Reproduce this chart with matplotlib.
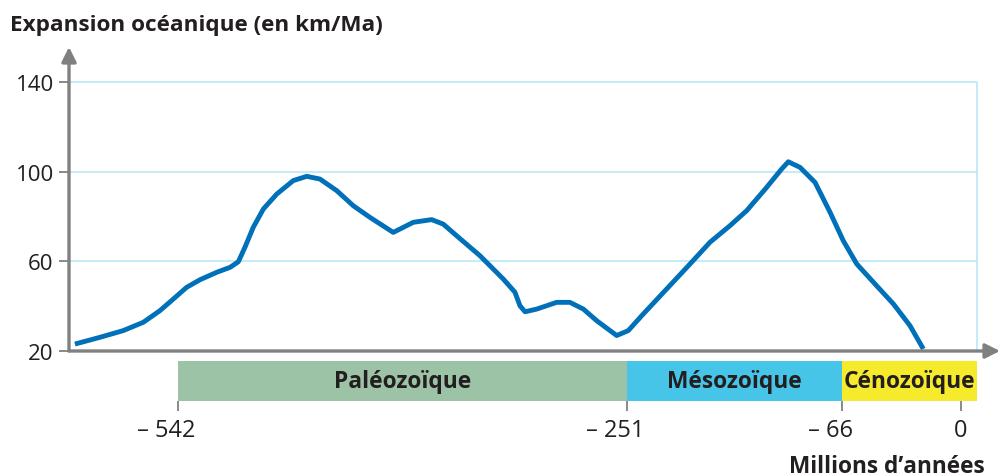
import numpy as np
import matplotlib
matplotlib.use("Agg")
import matplotlib.pyplot as plt
import matplotlib.transforms as mtransforms
from matplotlib.patches import Rectangle

plt.rcParams['font.family'] = ['Open Sans', 'DejaVu Sans']

# ---------------- data ----------------
ages = [-608.8, -592.6, -577.5, -564.5, -553.7, -545.0, -536.4, -527.7, -516.9,
        -508.3, -502.9, -498.6, -493.2, -486.7, -478.0, -467.3, -458.6, -450.0,
        -439.1, -428.4, -417.6, -402.5, -389.5, -377.6, -370.1, -361.4, -346.3,
        -331.2, -323.6, -320.4, -317.1, -309.5, -296.6, -288.0, -279.3, -270.6,
        -257.7, -249.9, -237.0, -216.8, -196.8, -179.6, -162.4, -148.0, -130.8,
        -117.9, -112.2, -102.1, -89.2, -76.3, -65.3, -57.8, -46.8, -37.5, -28.3,
        -20.9]
speed = [23.1, 26.1, 29.1, 32.8, 38.0, 43.2, 48.4, 51.8, 55.1,
         57.3, 59.8, 66.3, 75.2, 83.3, 90.0, 96.0, 97.9, 96.7,
         91.5, 84.8, 79.6, 72.9, 77.4, 78.6, 76.6, 71.4, 62.5,
         52.1, 46.2, 40.2, 37.5, 38.7, 41.7, 41.7, 38.7, 33.5,
         26.9, 29.1, 36.5, 47.7, 58.8, 68.5, 75.9, 82.6, 93.0,
         101.2, 104.4, 101.9, 95.2, 81.9, 69.2, 58.8, 49.1, 41.0, 31.3,
         20.9]

era_names = ['Paléozoïque', 'Mésozoïque', 'Cénozoïque']
era_starts = [-542, -251, -66]
era_colors = ['#9dc3a6', '#47c5e8', '#f6ea2d']
x_ticks = [-542, -251, -66, 0]
x_tick_labels = ['– 542', '– 251', '– 66', '0']
y_ticks = [20, 60, 100, 140]
y_tick_labels = ['20', '60', '100', '140']
title = 'Expansion océanique (en km/Ma)'
x_title = 'Millions d’années'

# ------------- piecewise time scale (each era has its own width) -------------
BRK_A = np.array([-542.0, -251.0, -66.0, 0.0])
BRK_P = np.array([178.0, 627.0, 842.0, 961.0])
SLOPES = np.diff(BRK_P) / np.diff(BRK_A)


def fwd(a):
    a = np.asarray(a, dtype=float)
    out = np.interp(a, BRK_A, BRK_P)
    out = np.where(a < BRK_A[0], BRK_P[0] + (a - BRK_A[0]) * SLOPES[0], out)
    out = np.where(a > BRK_A[-1], BRK_P[-1] + (a - BRK_A[-1]) * SLOPES[-1], out)
    return out


def inv(p):
    p = np.asarray(p, dtype=float)
    out = np.interp(p, BRK_P, BRK_A)
    out = np.where(p < BRK_P[0], BRK_A[0] + (p - BRK_P[0]) / SLOPES[0], out)
    out = np.where(p > BRK_P[-1], BRK_A[-1] + (p - BRK_P[-1]) / SLOPES[-1], out)
    return out


W, H = 1001, 477
fig = plt.figure(figsize=(W / 100, H / 100), dpi=100)
ax_l, ax_r, ax_t, ax_b = 69, 1000, 48, 352
ax = fig.add_axes([ax_l / W, 1 - ax_b / H, (ax_r - ax_l) / W, (ax_b - ax_t) / H])
ax.set_xscale('function', functions=(fwd, inv))
x_left = float(inv(ax_l))
x_right = float(inv(ax_r))
x_frame = float(inv(977))
ax.set_xlim(x_left, x_right)
ymin = 20
ymax = 20 + (ax_b - ax_t) / 2.242
ax.set_ylim(ymin, ymax)

for s in ax.spines.values():
    s.set_visible(False)

grid_c = '#b4e4f6'
axis_c = '#808080'
text_c = '#231f20'
ax.hlines(y_ticks[1:], x_left, x_frame, color=grid_c, lw=1.1, zorder=1)
ax.vlines([x_frame], ymin, y_ticks[-1], color=grid_c, lw=1.1, zorder=1)

# curve
ax.plot(ages, speed, color='#0071b9', lw=3.5, solid_joinstyle='round',
        solid_capstyle='butt', zorder=3)

# axes with arrows
ax.annotate('', xy=(0, 1), xytext=(0, 0), xycoords='axes fraction',
            arrowprops=dict(arrowstyle='-|>', color=axis_c, lw=2.4,
                            mutation_scale=22, shrinkA=0, shrinkB=0), zorder=4)
ax.annotate('', xy=(1, 0), xytext=(0, 0), xycoords='axes fraction',
            arrowprops=dict(arrowstyle='-|>', color=axis_c, lw=2.4,
                            mutation_scale=22, shrinkA=0, shrinkB=0), zorder=4)

# y ticks
ax.set_yticks(y_ticks)
ax.set_yticklabels(y_tick_labels, fontsize=16, color=text_c)
ax.tick_params(axis='y', length=7, width=1.3, color=axis_c, pad=4)
ax.set_xticks([])

# era bands
blend = mtransforms.blended_transform_factory(ax.transData, ax.transAxes)
band_top = (ax_b - 362) / (ax_b - ax_t)
band_bot = (ax_b - 402) / (ax_b - ax_t)
era_ends = era_starts[1:] + [x_frame]
for name, a0, a1, col in zip(era_names, era_starts, era_ends, era_colors):
    ax.add_patch(Rectangle((a0, band_bot), a1 - a0, band_top - band_bot,
                           transform=blend, facecolor=col, edgecolor='none',
                           clip_on=False, zorder=2))
    xm = float(inv((fwd(a0) + fwd(a1)) / 2))
    ax.text(xm, (band_top + band_bot) / 2, name, transform=blend, ha='center',
            va='center', fontsize=16.4, fontweight='bold', color=text_c,
            clip_on=False)

# x ticks (drawn below the bands)
tick_top = (ax_b - 402) / (ax_b - ax_t)
tick_bot = (ax_b - 412) / (ax_b - ax_t)
ax.vlines(x_ticks, tick_bot, tick_top, transform=blend, color=axis_c, lw=1.3,
          clip_on=False)
lab_y = (ax_b - 431) / (ax_b - ax_t)
for xt, lab in zip(x_ticks, x_tick_labels):
    dx = -12 if lab.startswith('–') else 0
    tr = mtransforms.offset_copy(blend, fig=fig, x=dx, y=0, units='dots')
    ax.text(xt, lab_y, lab, transform=tr, ha='center', va='center',
            fontsize=17, color=text_c, clip_on=False)

fig.text(985 / W, 1 - 467 / H, x_title, ha='right', va='center', fontsize=16.3,
         fontweight='bold', color=text_c)
fig.text(10 / W, 1 - 25 / H, title, ha='left', va='center', fontsize=16.2,
         fontweight='bold', color=text_c)

fig.savefig('out.png', dpi=100)
